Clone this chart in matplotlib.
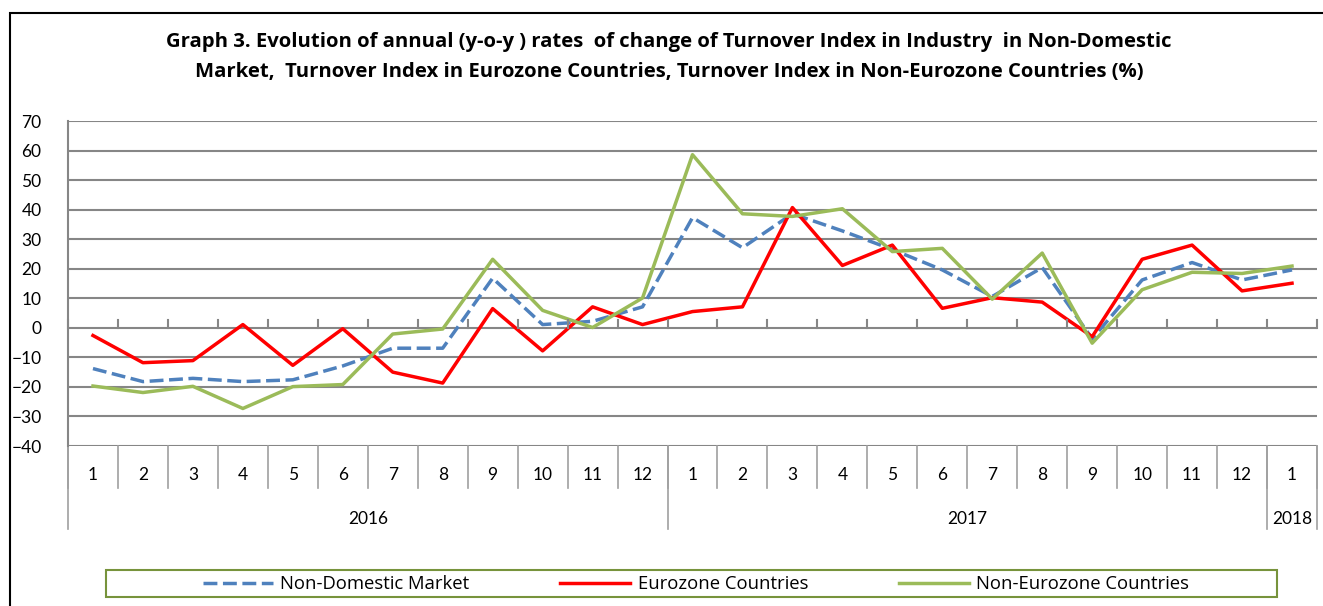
import matplotlib
matplotlib.use("Agg")
import matplotlib.pyplot as plt
from matplotlib.patches import Rectangle
import matplotlib.transforms as mtransforms

plt.rcParams['font.family'] = ['Lato', 'DejaVu Sans']

months = ["1", "2", "3", "4", "5", "6", "7", "8", "9", "10", "11", "12",
          "1", "2", "3", "4", "5", "6", "7", "8", "9", "10", "11", "12", "1"]
years = ["2016", "2017", "2018"]
year_counts = [12, 12, 1]

non_domestic = [-13.8, -18.2, -17.1, -18.2, -17.6, -12.9, -6.9, -6.9, 16.8, 1.1, 2.2, 7.1,
                37.3, 27.1, 38.6, 32.8, 26.5, 19.6, 10.6, 20.4, -3.7, 16.2, 22.1, 16.2, 19.6]
eurozone = [-2.6, -11.8, -11.1, 1.1, -12.7, -0.3, -15.0, -18.7, 6.5, -7.8, 7.1, 1.1,
            5.5, 7.1, 40.7, 21.1, 28.0, 6.6, 10.2, 8.7, -3.0, 23.2, 28.0, 12.5, 15.1]
non_eurozone = [-19.7, -21.9, -19.8, -27.3, -19.9, -19.2, -2.1, -0.4, 23.2, 5.9, 0.1, 10.1,
                58.6, 38.6, 37.7, 40.3, 25.8, 26.9, 9.7, 25.3, -5.2, 12.9, 18.8, 18.4, 20.9]

series_names = ["Non-Domestic Market", "Eurozone Countries", "Non-Eurozone Countries"]
colors = ["#4F81BD", "#FF0000", "#9BBB59"]

W, H = 1323, 606
fig = plt.figure(figsize=(W / 100, H / 100), dpi=100)

# outer frame
fig.add_artist(Rectangle((10 / W, -0.1), 1.2, 1 - 13 / H + 0.1, transform=fig.transFigure,
                         fill=False, edgecolor="black", linewidth=1.5))

left, right, top, bottom = 68, 1317, 121, 446
ax = fig.add_axes([left / W, 1 - bottom / H, (right - left) / W, (bottom - top) / H])

n = len(months)
x = list(range(n))
grid_c = "#868686"

ax.set_xlim(-0.5, n - 0.5)
ax.set_ylim(-40, 70)
ax.set_yticks(range(-40, 71, 10))
ax.yaxis.grid(True, color=grid_c, linewidth=1.5)
ax.set_axisbelow(True)
ax.tick_params(axis='y', length=0, labelsize=12.5, pad=19)
ax.set_xticks([])
for s in ["top", "right", "bottom"]:
    ax.spines[s].set_visible(False)
ax.spines["left"].set_color(grid_c)
ax.spines["left"].set_linewidth(1.5)

ax.plot(x, non_domestic, color=colors[0], linewidth=2.5, linestyle=(0, (4, 1.6)), label=series_names[0])
ax.plot(x, eurozone, color=colors[1], linewidth=2.5, label=series_names[1])
ax.plot(x, non_eurozone, color=colors[2], linewidth=2.5, label=series_names[2])

# category axis line at 0 with tick marks
trans = mtransforms.blended_transform_factory(ax.transData, ax.transAxes)
ph = bottom - top
tick_up = 8 / ph
y0 = (0 + 40) / 110
for b in range(n + 1):
    ax.plot([b - 0.5, b - 0.5], [y0, y0 + tick_up], transform=trans, color=grid_c,
            linewidth=1.5, clip_on=False)

# bottom category boxes
month_bot = -(488 - bottom) / ph
year_bot = -(529 - bottom) / ph
for b in range(n + 1):
    ax.plot([b - 0.5, b - 0.5], [0, month_bot], transform=trans, color="#A0A0A0",
            linewidth=1.2, clip_on=False)
for i, m in enumerate(months):
    ax.text(i, -(475 - bottom) / ph, m, transform=trans, ha="center", va="center",
            fontsize=12.5, clip_on=False)
start = 0
bounds = [0]
for yname, c in zip(years, year_counts):
    bounds.append(start + c)
    ax.text(start + c / 2 - 0.5, -(519 - bottom) / ph, yname, transform=trans,
            ha="center", va="center", fontsize=12.5, clip_on=False)
    start += c
for b in bounds:
    ax.plot([b - 0.5, b - 0.5], [0, year_bot], transform=trans, color="#A0A0A0",
            linewidth=1.2, clip_on=False)

# title
tfont = ['Open Sans', 'DejaVu Sans']
fig.text(669 / W, 1 - 42 / H,
         "Graph 3. Evolution of annual (y-o-y ) rates  of change of Turnover Index in Industry  in Non-Domestic",
         ha="center", va="center", fontsize=14.6, fontweight="bold", family=tfont)
fig.text(669 / W, 1 - 72 / H,
         "Market,  Turnover Index in Eurozone Countries, Turnover Index in Non-Eurozone Countries (%)",
         ha="center", va="center", fontsize=14.6, fontweight="bold", family=tfont)

# legend
fig.add_artist(Rectangle((106 / W, 1 - 597 / H), (1277 - 106) / W, 27 / H,
                         transform=fig.transFigure, fill=False, edgecolor="#77933C", linewidth=1.5))
handles, labels = ax.get_legend_handles_labels()
fig.legend(handles, labels, loc="center", bbox_to_anchor=(696 / W, 1 - 584 / H), ncol=3,
           frameon=False, prop={'family': tfont, 'size': 13.3},
           handlelength=3.8, handletextpad=0.4, columnspacing=4.9)

fig.savefig("out.png", dpi=100)
